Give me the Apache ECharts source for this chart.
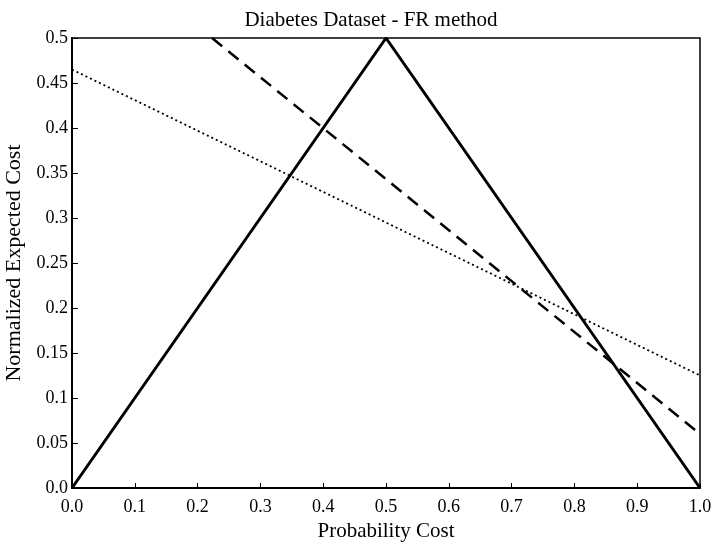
<!DOCTYPE html>
<html>
<head>
<meta charset="utf-8">
<script src="https://cdn.jsdelivr.net/npm/echarts@6/dist/echarts.min.js"></script>
<style>html,body{margin:0;padding:0;background:#fff;}#c{width:716px;height:548px;}</style>
</head>
<body>
<div id="c"></div>
<script>
const titleText = 'Diabetes Dataset - FR method';
const xName = 'Probability Cost';
const yName = 'Normalized Expected Cost';
// Solid (triangle) line
const solidX = [0.0, 0.5, 1.0];
const solidY = [0.0, 0.5, 0.0];
// Dashed line
const dashedX = [0.223, 1.0];
const dashedY = [0.5, 0.06];
// Dotted line
const dottedX = [0.0, 1.0];
const dottedY = [0.465, 0.125];

const zip = (xs, ys) => xs.map((x, i) => [x, ys[i]]);
const font = 'Liberation Serif';

const chart = echarts.init(document.getElementById('c'), null, {renderer: 'canvas'});
chart.setOption({
  backgroundColor: '#fff',
  animation: false,
  title: {
    text: titleText, left: 366, top: 5, textAlign: 'center',
    textStyle: {fontFamily: font, fontSize: 21, fontWeight: 'normal', color: '#000'}
  },
  grid: {left: 72, right: 16, top: 38, bottom: 60, containLabel: false, outerBoundsMode: 'none',
    show: true, borderColor: '#000', borderWidth: 1.5, backgroundColor: 'transparent'},
  xAxis: {
    type: 'value', min: 0, max: 1, interval: 0.1,
    name: xName, nameLocation: 'middle', nameGap: 33,
    nameTextStyle: {fontFamily: font, fontSize: 21, color: '#000'},
    axisLine: {show: true, lineStyle: {color: '#000', width: 2}},
    axisTick: {show: true, inside: true, length: 5, lineStyle: {color: '#000'}},
    axisLabel: {fontFamily: font, fontSize: 18, color: '#000', margin: 10, formatter: v => v.toFixed(1)},
    splitLine: {show: false}
  },
  yAxis: {
    type: 'value', min: 0, max: 0.5, interval: 0.05,
    name: yName, nameLocation: 'middle', nameGap: 40, nameRotate: 90,
    nameTextStyle: {fontFamily: font, fontSize: 22, color: '#000'},
    axisLine: {show: true, lineStyle: {color: '#000', width: 2}},
    axisTick: {show: true, inside: true, length: 6, lineStyle: {color: '#000'}},
    axisLabel: {fontFamily: font, fontSize: 18, color: '#000', margin: 4,
      formatter: v => v === 0 ? '0.0' : String(parseFloat(v.toFixed(2)))},
    splitLine: {show: false}
  },
  series: [
    {type: 'line', data: zip(solidX, solidY), symbol: 'none', lineStyle: {color: '#000', width: 3, type: 'solid'}},
    {type: 'line', data: zip(dashedX, dashedY), symbol: 'none', lineStyle: {color: '#000', width: 2.5, type: [13, 8]}},
    {type: 'line', data: zip(dottedX, dottedY), symbol: 'none', lineStyle: {color: '#000', width: 1.8, type: [2, 3]}}
  ]
});
</script>
</body>
</html>
